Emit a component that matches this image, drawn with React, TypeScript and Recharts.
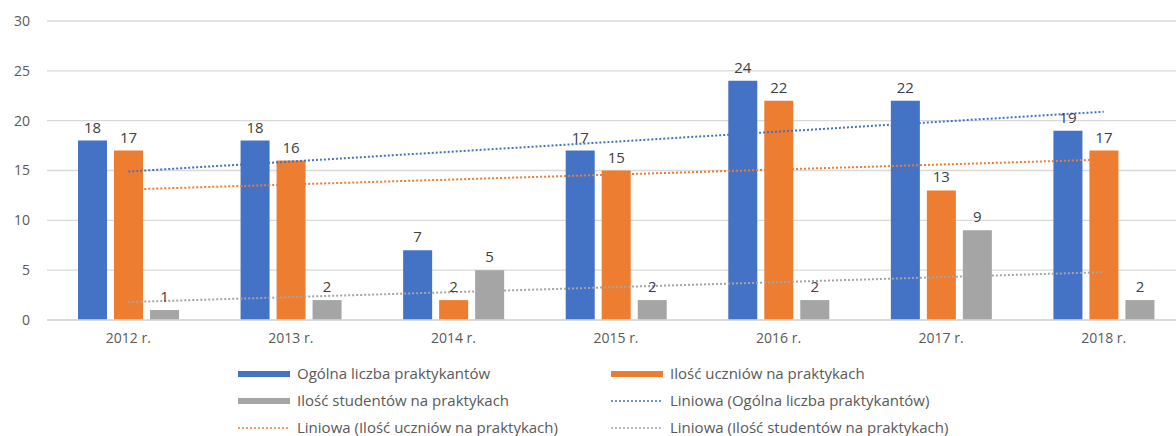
import React from 'react';
import { ComposedChart, Bar, Line, XAxis, YAxis, CartesianGrid, LabelList } from 'recharts';

const years = ['2012 r.', '2013 r.', '2014 r.', '2015 r.', '2016 r.', '2017 r.', '2018 r.'];
const ogolna = [18, 18, 7, 17, 24, 22, 19];
const uczniowie = [17, 16, 2, 15, 22, 13, 17];
const studenci = [1, 2, 5, 2, 2, 9, 2];
// linear trend lines at first and last year
const trendOgolna = [14.9, null, null, null, null, null, 20.9];
const trendUczniowie = [13.1, null, null, null, null, null, 16.1];
const trendStudenci = [1.8, null, null, null, null, null, 4.8];
const yTicks = [0, 5, 10, 15, 20, 25, 30];

const BLUE = '#4472C4';
const ORANGE = '#ED7D31';
const GRAY = '#A5A5A5';
const TEXT = '#595959';
const FONT = '"Open Sans", Lato, sans-serif';

const data = years.map((year, i) => ({
    year,
    ogolna: ogolna[i],
    uczniowie: uczniowie[i],
    studenci: studenci[i],
    tOgolna: trendOgolna[i],
    tUczniowie: trendUczniowie[i],
    tStudenci: trendStudenci[i],
}));

const legendItems = [
    { label: 'Ogólna liczba praktykantów', color: BLUE, dotted: false },
    { label: 'Ilość uczniów na praktykach', color: ORANGE, dotted: false },
    { label: 'Ilość studentów na praktykach', color: GRAY, dotted: false },
    { label: 'Liniowa (Ogólna liczba praktykantów)', color: BLUE, dotted: true },
    { label: 'Liniowa (Ilość uczniów na praktykach)', color: ORANGE, dotted: true },
    { label: 'Liniowa (Ilość studentów na praktykach)', color: GRAY, dotted: true },
];

const ChartLegend = () => (
    <div style={{
        position: 'absolute', left: 238, top: 360, display: 'grid',
        gridTemplateColumns: '373px 400px', gridAutoRows: '27px',
        fontFamily: FONT, fontSize: 15, color: TEXT, lineHeight: '27px',
    }}>
        {legendItems.map(item => (
            <div key={item.label} style={{ display: 'flex', alignItems: 'center', whiteSpace: 'nowrap' }}>
                <svg width={52} height={8} style={{ marginRight: 7, flexShrink: 0 }}>
                    {item.dotted
                        ? <line x1={0} y1={4} x2={52} y2={4} stroke={item.color} strokeWidth={1.5} strokeDasharray="2 2" />
                        : <rect x={0} y={1} width={52} height={6} fill={item.color} />}
                </svg>
                {item.label}
            </div>
        ))}
    </div>
);

const labelStyle = { fill: '#404040', fontSize: 15, fontFamily: FONT };

export default function App() {
    return (
        <div style={{ position: 'fixed', left: 0, top: 0, width: 1176, height: 436, overflow: 'hidden', background: '#fff' }}>
            <ComposedChart width={1200} height={436} data={data} barGap={7}
                margin={{ top: 21, right: 15, left: 7, bottom: 86 }}>
                <CartesianGrid vertical={false} stroke="#D9D9D9" strokeWidth={1.3} />
                <XAxis dataKey="year" tickLine={false} axisLine={{ stroke: '#D9D9D9', strokeWidth: 1.3 }}
                    tick={{ fill: TEXT, fontSize: 14, fontFamily: FONT }} tickMargin={7} height={30} />
                <YAxis domain={[0, 30]} ticks={yTicks} tickLine={false} axisLine={false} width={40}
                    tick={{ fill: TEXT, fontSize: 14, fontFamily: FONT }} tickMargin={11} />
                <Bar dataKey="ogolna" fill={BLUE} barSize={29} isAnimationActive={false}>
                    <LabelList dataKey="ogolna" position="top" offset={8} style={labelStyle} />
                </Bar>
                <Bar dataKey="uczniowie" fill={ORANGE} barSize={29} isAnimationActive={false}>
                    <LabelList dataKey="uczniowie" position="top" offset={8} style={labelStyle} />
                </Bar>
                <Bar dataKey="studenci" fill={GRAY} barSize={29} isAnimationActive={false}>
                    <LabelList dataKey="studenci" position="top" offset={8} style={labelStyle} />
                </Bar>
                <Line dataKey="tOgolna" stroke={BLUE} strokeWidth={2} strokeDasharray="2 2" dot={false}
                    connectNulls isAnimationActive={false} />
                <Line dataKey="tUczniowie" stroke={ORANGE} strokeWidth={2} strokeDasharray="2 2" dot={false}
                    connectNulls isAnimationActive={false} />
                <Line dataKey="tStudenci" stroke={GRAY} strokeWidth={2} strokeDasharray="2 2" dot={false}
                    connectNulls isAnimationActive={false} />
            </ComposedChart>
            <ChartLegend />
        </div>
    );
}
